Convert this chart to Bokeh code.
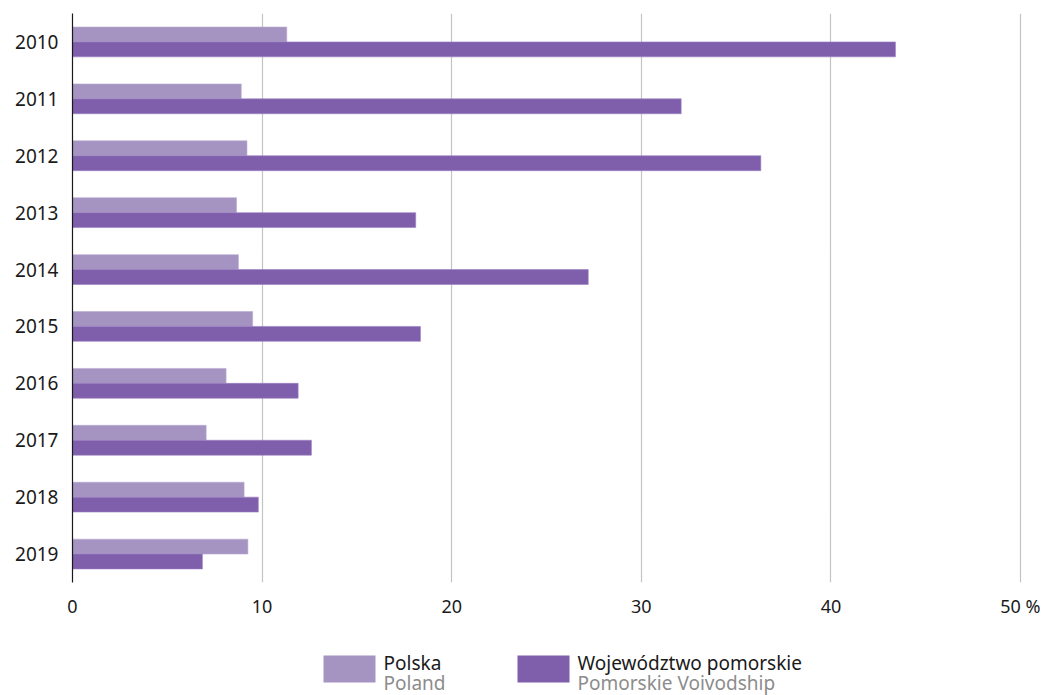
from bokeh.plotting import figure
from bokeh.models import Range1d, FactorRange, FixedTicker
from bokeh.layouts import column
from bokeh.transform import dodge
from bokeh.core.properties import value
from bokeh.embed import file_html
from bokeh.resources import INLINE

years = ["2010", "2011", "2012", "2013", "2014", "2015", "2016", "2017", "2018", "2019"]
polska = [11.3, 8.9, 9.2, 8.65, 8.75, 9.5, 8.1, 7.05, 9.05, 9.25]
pomorskie = [43.4, 32.1, 36.3, 18.1, 27.2, 18.35, 11.9, 12.6, 9.8, 6.85]
x_ticks = [0, 10, 20, 30, 40, 50]
tick_labels = {0: "0", 10: "10", 20: "20", 30: "30", 40: "40", 50: "50 %"}
series_names = ["Polska", "Województwo pomorskie"]
series_names_en = ["Poland", "Pomorskie Voivodship"]

C_LIGHT = "#a593c2"
C_DARK = "#7f5eab"
FONT = "Noto Sans"

p = figure(width=1040, height=620, output_backend="svg", toolbar_location=None,
           x_range=Range1d(0, 51.05), y_range=FactorRange(*years[::-1]),
           min_border_left=72, min_border_right=0, min_border_top=13, min_border_bottom=35)
p.outline_line_color = None

src = dict(year=years, polska=polska, pomorskie=pomorskie)
p.hbar(y=dodge("year", 0.131, range=p.y_range), right="polska", left=0, height=0.262,
       source=src, fill_color=C_LIGHT, line_color="#b9abd2", line_width=0.6)
p.hbar(y=dodge("year", -0.131, range=p.y_range), right="pomorskie", left=0, height=0.262,
       source=src, fill_color=C_DARK, line_color="#9a82c2", line_width=0.6)

xa = p.xaxis[0]
xa.ticker = FixedTicker(ticks=x_ticks)
xa.major_label_overrides = {k: v for k, v in tick_labels.items()}
xa.axis_line_color = None
xa.major_tick_line_color = None
xa.minor_tick_line_color = None
xa.major_tick_out = 0
xa.major_label_standoff = 11
xa.major_label_text_font = FONT
xa.major_label_text_font_size = "18px"
xa.major_label_text_color = "#1a1a1a"

ya = p.yaxis[0]
ya.axis_line_color = "#1a1a1a"
ya.axis_line_width = 1.2
ya.major_tick_line_color = None
ya.minor_tick_line_color = None
ya.major_tick_out = 0
ya.major_label_standoff = 14
ya.major_label_text_font = FONT
ya.major_label_text_font_size = "19px"
ya.major_label_text_color = "#1a1a1a"

p.ygrid.grid_line_color = None
p.xgrid.ticker = FixedTicker(ticks=x_ticks[1:])
p.xgrid.grid_line_color = "#c4c4c4"
p.xgrid.grid_line_width = 1.2

# legend panel (coordinates = page pixels; frame aligned with the main plot)
leg = figure(width=1040, height=75, output_backend="svg", toolbar_location=None,
             x_range=Range1d(72, 1040), y_range=Range1d(695, 620),
             x_axis_location=None, y_axis_location=None,
             min_border_left=72, min_border_right=0,
             min_border_top=0, min_border_bottom=0)
leg.outline_line_color = None
leg.grid.visible = False
leg.quad(left=[323, 517], right=[375, 569], top=[655, 655], bottom=[682, 682],
         fill_color=[C_LIGHT, C_DARK], line_color=None)
leg.text(x=[383, 577], y=[662, 662], text=series_names, text_font=value(FONT),
         text_font_size="19px", text_color="#1a1a1a", text_baseline="alphabetic")
leg.text(x=[383, 577], y=[682, 682], text=series_names_en, text_font=value(FONT),
         text_font_size="19px", text_color="#8c8c8c", text_baseline="alphabetic")

layout = column(p, leg, spacing=0)
open("out.html", "w").write(file_html(layout, INLINE))
